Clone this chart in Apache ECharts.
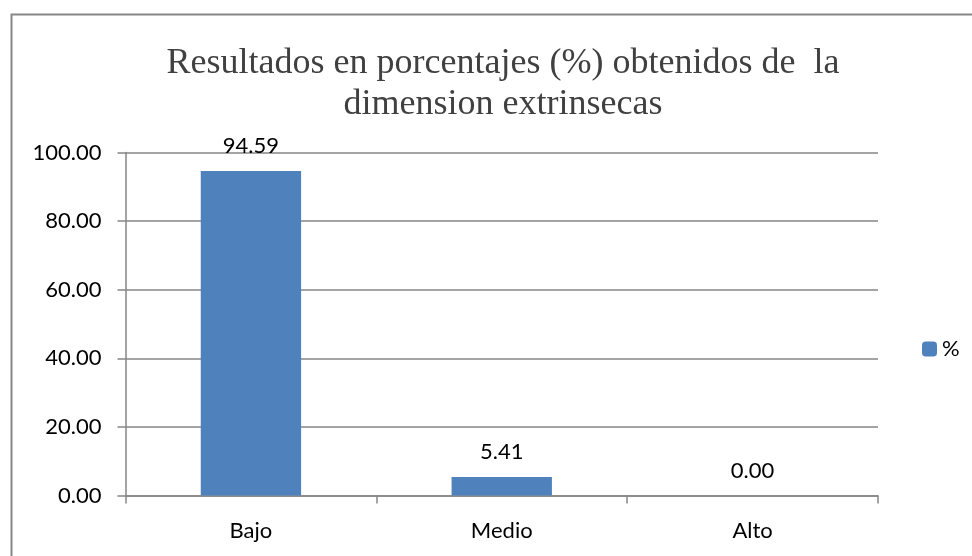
<!DOCTYPE html>
<html>
<head>
<meta charset="utf-8">
<script src="https://cdn.jsdelivr.net/npm/echarts@6/dist/echarts.min.js"></script>
<style>html,body{margin:0;padding:0;background:#fff}#c{width:972px;height:556px}</style>
</head>
<body>
<div id="c"></div>
<script>
const categories = ['Bajo', 'Medio', 'Alto'];
const seriesName = '%';
const values = [94.59, 5.41, 0.00];
const yTicks = { min: 0, max: 100, interval: 20 };
const titleText = 'Resultados en porcentajes (%) obtenidos de  la\ndimension extrinsecas';

const chart = echarts.init(document.getElementById('c'), null, { renderer: 'canvas' });
const labelFont = 'Lato, "Noto Sans", sans-serif';
chart.setOption({
  animation: false,
  backgroundColor: '#fff',
  graphic: [{
    type: 'rect', left: 9, top: 12, z: -1,
    shape: { width: 1100, height: 700 },
    style: { fill: 'none', stroke: '#868686', lineWidth: 2 }
  }],
  title: {
    text: titleText,
    left: 498, top: 38, textAlign: 'center',
    textStyle: { fontFamily: '"Liberation Serif", serif', fontSize: 36, fontWeight: 'normal', color: '#404040', lineHeight: 41 }
  },
  legend: {
    data: [seriesName], left: 917, top: 333, orient: 'vertical',
    itemWidth: 15, itemHeight: 15, itemGap: 6,
    textStyle: { fontFamily: labelFont, fontSize: 22, color: '#000' }
  },
  grid: { left: 125.5, right: 94, top: 152.5, bottom: 60.5, containLabel: false },
  xAxis: {
    type: 'category', data: categories, boundaryGap: true,
    axisLine: { lineStyle: { color: '#868686', width: 1.5 } },
    axisTick: { show: true, length: 8, lineStyle: { color: '#868686', width: 1.5 } },
    axisLabel: { fontFamily: labelFont, fontSize: 22, color: '#000', margin: 24 }
  },
  yAxis: {
    type: 'value', min: yTicks.min, max: yTicks.max, interval: yTicks.interval,
    axisLine: { show: true, lineStyle: { color: '#868686', width: 1.5 } },
    axisTick: { show: true, length: 8, lineStyle: { color: '#868686', width: 1.5 } },
    splitLine: { lineStyle: { color: '#868686', width: 1.5 } },
    axisLabel: { fontFamily: labelFont, fontSize: 22, color: '#000', margin: 24,
      formatter: v => v.toFixed(2) }
  },
  series: [{
    name: seriesName, type: 'bar', data: values, barWidth: '40%',
    itemStyle: { color: '#4F81BD' },
    label: { show: true, position: 'top', distance: 14, fontFamily: labelFont, fontSize: 22, color: '#000',
      formatter: p => p.value.toFixed(2) }
  }]
});
</script>
</body>
</html>
